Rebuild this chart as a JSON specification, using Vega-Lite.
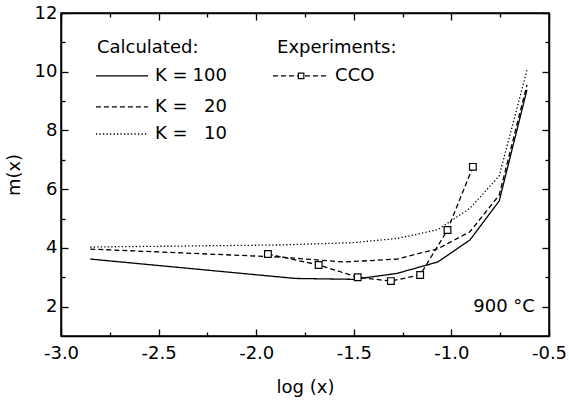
{
  "$schema": "https://vega.github.io/schema/vega-lite/v6.json",
  "width": 488,
  "height": 323,
  "autosize": {"type": "none"},
  "padding": {"left": 61, "top": 13, "right": 20, "bottom": 64},
  "background": "white",
  "config": {
    "view": {"stroke": "black", "strokeWidth": 1.5},
    "font": "DejaVu Sans",
    "axis": {
      "domainColor": "black", "domainWidth": 1.5,
      "tickColor": "black", "tickWidth": 1.3,
      "labelColor": "black", "labelFontSize": 18, "labelFont": "DejaVu Sans",
      "titleFont": "DejaVu Sans", "titleFontSize": 18, "titleFontWeight": "normal", "titleColor": "black",
      "grid": false, "labelFlush": false, "labelOverlap": false
    }
  },
  "datasets": {
    "curves": [
      {"x": -2.85, "m": 3.62, "K": "100"}, {"x": -1.8, "m": 2.96, "K": "100"}, {"x": -1.5, "m": 2.93, "K": "100"}, {"x": -1.28, "m": 3.13, "K": "100"}, {"x": -1.07, "m": 3.52, "K": "100"}, {"x": -0.905, "m": 4.27, "K": "100"}, {"x": -0.755, "m": 5.6, "K": "100"}, {"x": -0.613, "m": 9.38, "K": "100"},
      {"x": -2.85, "m": 3.96, "K": "20"}, {"x": -1.88, "m": 3.69, "K": "20"}, {"x": -1.55, "m": 3.52, "K": "20"}, {"x": -1.28, "m": 3.62, "K": "20"}, {"x": -1.07, "m": 3.97, "K": "20"}, {"x": -0.905, "m": 4.55, "K": "20"}, {"x": -0.755, "m": 5.8, "K": "20"}, {"x": -0.613, "m": 9.55, "K": "20"},
      {"x": -2.85, "m": 4.03, "K": "10"}, {"x": -1.88, "m": 4.1, "K": "10"}, {"x": -1.5, "m": 4.18, "K": "10"}, {"x": -1.28, "m": 4.32, "K": "10"}, {"x": -1.07, "m": 4.62, "K": "10"}, {"x": -0.905, "m": 5.35, "K": "10"}, {"x": -0.755, "m": 6.45, "K": "10"}, {"x": -0.613, "m": 10.05, "K": "10"}
    ],
    "cco": [
      {"x": -1.94, "m": 3.79}, {"x": -1.68, "m": 3.42}, {"x": -1.48, "m": 3.0}, {"x": -1.31, "m": 2.87}, {"x": -1.16, "m": 3.08}, {"x": -1.02, "m": 4.61}, {"x": -0.89, "m": 6.76}
    ],
    "legendLines": [
      {"x1": -2.821, "x2": -2.554, "y": 9.86, "K": "100"},
      {"x1": -2.821, "x2": -2.554, "y": 8.8, "K": "20"},
      {"x1": -2.821, "x2": -2.554, "y": 7.88, "K": "10"}
    ],
    "ccoLegendLine": [{"x1": -1.914, "x2": -1.632, "y": 9.86}],
    "ccoLegendPoint": [{"x": -1.77, "y": 9.86}],
    "textLeft": [
      {"x": -2.816, "y": 10.81, "t": "Calculated:"},
      {"x": -1.893, "y": 10.81, "t": "Experiments:"},
      {"x": -2.518, "y": 9.86, "t": "K ="},
      {"x": -2.518, "y": 8.8, "t": "K ="},
      {"x": -2.518, "y": 7.88, "t": "K ="},
      {"x": -1.596, "y": 9.86, "t": "CCO"}
    ],
    "textRight": [
      {"x": -2.15, "y": 9.86, "t": "100"},
      {"x": -2.15, "y": 8.8, "t": "20"},
      {"x": -2.15, "y": 7.88, "t": "10"},
      {"x": -0.572, "y": 1.99, "t": "900 °C"}
    ]
  },
  "resolve": {"axis": {"x": "independent", "y": "independent"}},
  "layer": [
    {
      "data": {"name": "curves"},
      "mark": {"type": "line", "color": "black", "strokeWidth": 1.3},
      "encoding": {
        "x": {"field": "x", "type": "quantitative",
          "scale": {"domain": [-3, -0.5], "nice": false, "zero": false},
          "axis": {"orient": "bottom", "title": "log (x)", "titlePadding": 16,
            "values": [-3, -2.5, -2, -1.5, -1, -0.5],
            "tickSize": -7, "labelPadding": 15,
            "labelExpr": "replace(format(datum.value, '.1f'), '\u2212', '-')"}},
        "y": {"field": "m", "type": "quantitative",
          "scale": {"domain": [1, 12], "nice": false, "zero": false},
          "axis": {"orient": "left", "title": "m(x)", "titlePadding": 11,
            "values": [2, 4, 6, 8, 10, 12],
            "tickSize": -7, "labelPadding": 11}},
        "strokeDash": {"field": "K", "type": "nominal", "legend": null,
          "scale": {"domain": ["100", "20", "10"], "range": [[1, 0], [5, 3], [1.3, 2.2]]}},
        "detail": {"field": "K"}
      }
    },
    {
      "data": {"name": "cco"},
      "mark": {"type": "line", "color": "black", "strokeWidth": 1.3, "strokeDash": [5, 3]},
      "encoding": {
        "x": {"field": "x", "type": "quantitative",
          "axis": {"orient": "top", "title": null, "labels": false,
            "values": [-3, -2.5, -2, -1.5, -1, -0.5], "tickSize": -7}},
        "y": {"field": "m", "type": "quantitative",
          "axis": {"orient": "right", "title": null, "labels": false,
            "values": [2, 4, 6, 8, 10, 12], "tickSize": -7}}
      }
    },
    {
      "data": {"name": "cco"},
      "mark": {"type": "point", "shape": "square", "size": 45, "filled": true, "fill": "white", "stroke": "black", "strokeWidth": 1.2, "opacity": 1},
      "encoding": {
        "x": {"field": "x", "type": "quantitative",
          "axis": {"orient": "bottom", "title": null, "labels": false, "domain": false,
            "values": [-2.75, -2.25, -1.75, -1.25, -0.75], "tickSize": -4}},
        "y": {"field": "m", "type": "quantitative",
          "axis": {"orient": "left", "title": null, "labels": false, "domain": false,
            "values": [3, 5, 7, 9, 11], "tickSize": -4}}
      }
    },
    {
      "data": {"name": "legendLines"},
      "mark": {"type": "rule", "color": "black", "strokeWidth": 1.3},
      "encoding": {
        "x": {"field": "x1", "type": "quantitative",
          "axis": {"orient": "top", "title": null, "labels": false, "domain": false,
            "values": [-2.75, -2.25, -1.75, -1.25, -0.75], "tickSize": -4}},
        "x2": {"field": "x2"},
        "y": {"field": "y", "type": "quantitative",
          "axis": {"orient": "right", "title": null, "labels": false, "domain": false,
            "values": [3, 5, 7, 9, 11], "tickSize": -4}},
        "strokeDash": {"field": "K", "type": "nominal", "legend": null,
          "scale": {"domain": ["100", "20", "10"], "range": [[1, 0], [5, 3], [1.3, 2.2]]}}
      }
    },
    {
      "data": {"name": "ccoLegendLine"},
      "mark": {"type": "rule", "color": "black", "strokeWidth": 1.3, "strokeDash": [5, 3]},
      "encoding": {
        "x": {"field": "x1", "type": "quantitative", "axis": null},
        "x2": {"field": "x2"},
        "y": {"field": "y", "type": "quantitative", "axis": null}
      }
    },
    {
      "data": {"name": "ccoLegendPoint"},
      "mark": {"type": "point", "shape": "square", "size": 30, "filled": true, "fill": "white", "stroke": "black", "strokeWidth": 1.2, "opacity": 1},
      "encoding": {
        "x": {"field": "x", "type": "quantitative", "axis": null},
        "y": {"field": "y", "type": "quantitative", "axis": null}
      }
    },
    {
      "data": {"name": "textLeft"},
      "mark": {"type": "text", "align": "left", "baseline": "middle", "fontSize": 18, "font": "DejaVu Sans", "color": "black"},
      "encoding": {
        "x": {"field": "x", "type": "quantitative", "axis": null},
        "y": {"field": "y", "type": "quantitative", "axis": null},
        "text": {"field": "t"}
      }
    },
    {
      "data": {"name": "textRight"},
      "mark": {"type": "text", "align": "right", "baseline": "middle", "fontSize": 18, "font": "DejaVu Sans", "color": "black"},
      "encoding": {
        "x": {"field": "x", "type": "quantitative", "axis": null},
        "y": {"field": "y", "type": "quantitative", "axis": null},
        "text": {"field": "t"}
      }
    }
  ]
}
